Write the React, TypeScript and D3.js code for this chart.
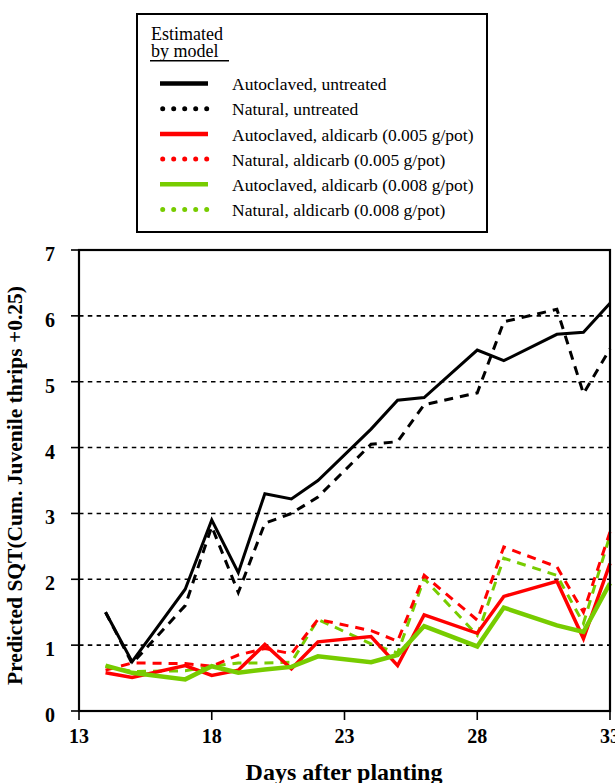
import React from 'react';
import * as d3 from 'd3';

// days after planting at which the model was evaluated
const days = [14, 15, 17, 18, 19, 20, 21, 22, 24, 25, 26, 28, 29, 31, 32, 33];

const autoUntreated = [1.5, 0.75, 1.85, 2.9, 2.1, 3.3, 3.22, 3.5, 4.28, 4.72, 4.76, 5.48, 5.32, 5.72, 5.75, 6.19];
const natUntreated = [1.5, 0.72, 1.6, 2.8, 1.8, 2.85, 3.0, 3.25, 4.05, 4.09, 4.65, 4.83, 5.91, 6.1, 4.82, 5.5];
const autoAld005 = [0.58, 0.51, 0.69, 0.54, 0.62, 1.01, 0.64, 1.05, 1.13, 0.69, 1.46, 1.18, 1.74, 1.97, 1.1, 2.24];
const natAld005 = [0.62, 0.73, 0.72, 0.68, 0.85, 0.95, 0.87, 1.39, 1.22, 1.06, 2.06, 1.38, 2.49, 2.19, 1.5, 2.72];
const autoAld008 = [0.69, 0.58, 0.48, 0.68, 0.58, 0.63, 0.67, 0.83, 0.74, 0.85, 1.29, 0.98, 1.57, 1.3, 1.2, 1.94];
const natAld008 = [0.68, 0.6, 0.61, 0.68, 0.73, 0.73, 0.74, 1.39, 1.02, 0.88, 2.01, 1.15, 2.32, 2.06, 1.33, 2.67];

const xTicks = [13, 18, 23, 28, 33];
const yTicks = [0, 1, 2, 3, 4, 5, 6, 7];
const gridValues = [1, 2, 3, 4, 5, 6];

const legendLabels = [
  'Autoclaved, untreated',
  'Natural, untreated',
  'Autoclaved, aldicarb (0.005 g/pot)',
  'Natural, aldicarb (0.005 g/pot)',
  'Autoclaved, aldicarb (0.008 g/pot)',
  'Natural, aldicarb (0.008 g/pot)',
];

const BLACK = '#000000';
const RED = '#ff0000';
const GREEN = '#77cc00';

type Series = { values: number[]; color: string; dashed: boolean; width: number };

// draw order: dashed first, solid on top
const series: Series[] = [
  { values: natAld008, color: GREEN, dashed: true, width: 3 },
  { values: natAld005, color: RED, dashed: true, width: 3 },
  { values: natUntreated, color: BLACK, dashed: true, width: 3 },
  { values: autoUntreated, color: BLACK, dashed: false, width: 3 },
  { values: autoAld005, color: RED, dashed: false, width: 3.5 },
  { values: autoAld008, color: GREEN, dashed: false, width: 4.5 },
];

const legendStyle = [
  { color: BLACK, dashed: false },
  { color: BLACK, dashed: true },
  { color: RED, dashed: false },
  { color: RED, dashed: true },
  { color: GREEN, dashed: false },
  { color: GREEN, dashed: true },
];

const W = 615;
const H = 783;
const margin = { top: 250, right: 5, bottom: 72, left: 79 };

export default function App() {
  const innerW = W - margin.left - margin.right;
  const innerH = H - margin.top - margin.bottom;

  const x = d3.scaleLinear().domain([13, 33]).range([0, innerW]);
  const y = d3.scaleLinear().domain([0, 7]).range([innerH, 0]);

  const line = (vals: number[]) =>
    d3.line<number>()
      .x((_, i) => x(days[i]))
      .y((d) => y(d))(vals) || '';

  const serif = '"Liberation Serif", "Times New Roman", serif';

  return (
    <svg width={W} height={H} style={{ position: 'absolute', left: 0, top: 0, background: '#fff' }}
      fontFamily={serif}>
      {/* legend */}
      <g>
        <rect x={137} y={14} width={350} height={218} fill="#fff" stroke="#000" strokeWidth={2} />
        <text x={151} y={40} fontSize={18}>Estimated</text>
        <text x={151} y={56.5} fontSize={18}>by model</text>
        <line x1={150} x2={229} y1={60.8} y2={60.8} stroke="#000" strokeWidth={1.6} />
        {legendLabels.map((lab, i) => {
          const ly = 83.5 + i * 25.2;
          const st = legendStyle[i];
          return (
            <g key={lab}>
              {st.dashed ? (
                <line x1={162.7} x2={207} y1={ly} y2={ly} stroke={st.color} strokeWidth={5}
                  strokeLinecap="round" strokeDasharray="0,11" />
              ) : (
                <line x1={160} x2={208} y1={ly} y2={ly} stroke={st.color} strokeWidth={4.5} />
              )}
              <text x={232} y={ly + 6.7} fontSize={17.5}>{lab}</text>
            </g>
          );
        })}
      </g>

      <g transform={`translate(${margin.left},${margin.top})`}>
        {/* horizontal dotted grid */}
        {gridValues.map((v) => (
          <line key={v} x1={0} x2={innerW} y1={y(v)} y2={y(v)} stroke="#000"
            strokeWidth={1.6} strokeDasharray="4.5,4.3" />
        ))}

        {/* series */}
        {series.map((s, i) => (
          <path key={i} d={line(s.values)} fill="none" stroke={s.color} strokeWidth={s.width}
            strokeDasharray={s.dashed ? '9,7' : undefined} strokeLinejoin="miter" />
        ))}

        {/* frame */}
        <rect x={0} y={0} width={innerW} height={innerH} fill="none" stroke="#000" strokeWidth={2.2} />

        {/* y ticks */}
        {yTicks.map((t) => (
          <g key={t} transform={`translate(0,${y(t)})`}>
            <line x1={-8} x2={0} stroke="#000" strokeWidth={1.6} />
            <text x={-29} y={11} textAnchor="middle" fontSize={20} fontWeight="bold">{t}</text>
          </g>
        ))}

        {/* x ticks */}
        {xTicks.map((t) => (
          <g key={t} transform={`translate(${x(t)},${innerH})`}>
            <line y1={0} y2={9} stroke="#000" strokeWidth={1.6} />
            <text y={32.3} textAnchor="middle" fontSize={20} fontWeight="bold">{t}</text>
          </g>
        ))}

        <text x={265} y={innerH + 69.3} textAnchor="middle" fontSize={24} fontWeight="bold">
          Days after planting
        </text>
        <text transform={`translate(-57,${235.5}) rotate(-90)`} textAnchor="middle"
          fontSize={21.5} fontWeight="bold">
          Predicted SQT(Cum. Juvenile thrips +0.25)
        </text>
      </g>
    </svg>
  );
}
